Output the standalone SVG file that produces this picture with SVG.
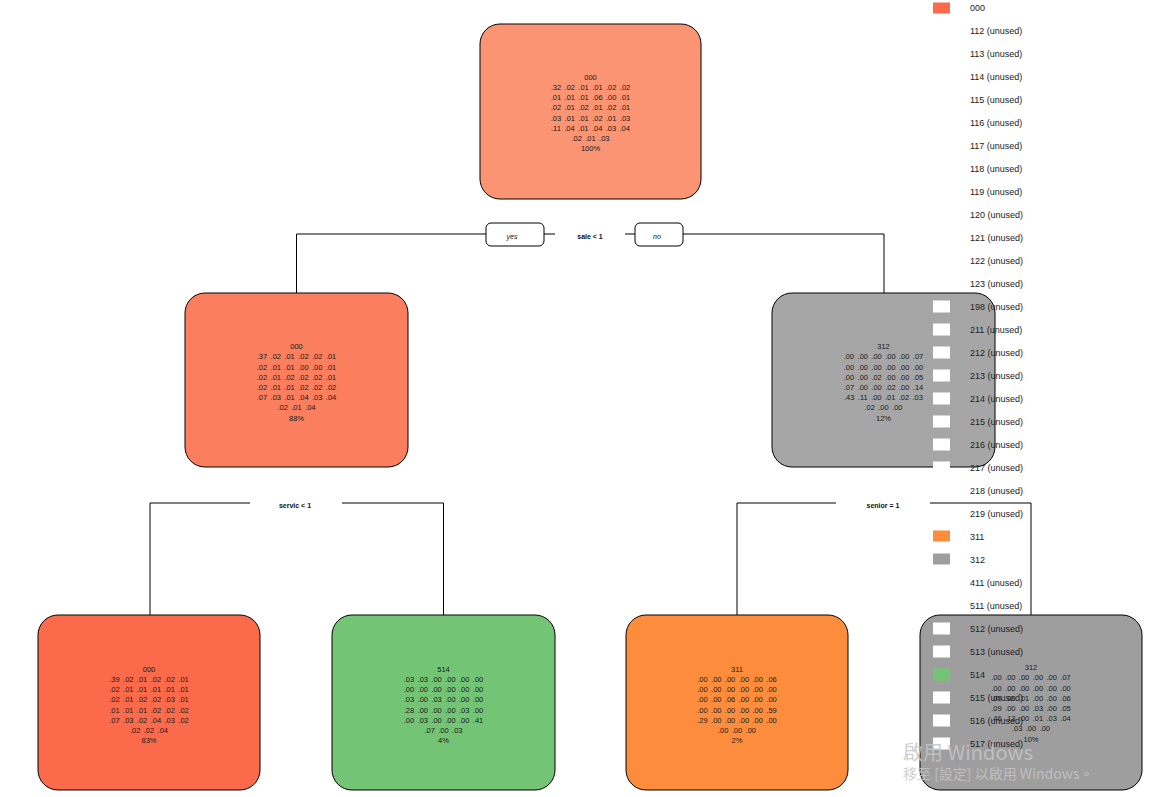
<svg xmlns="http://www.w3.org/2000/svg" width="1164" height="797" viewBox="0 0 1164 797">
<style>
.box{stroke:#000;stroke-width:1}
.nt{font-family:"Liberation Sans",Arial,sans-serif;font-size:7.5px;fill:#1a1a1a;text-anchor:middle;word-spacing:1.3px}
.lbl{font-family:"Liberation Sans",Arial,sans-serif;font-size:7px;font-weight:bold;fill:#111;text-anchor:middle}
.yn{font-family:"Liberation Sans",Arial,sans-serif;font-size:7px;font-style:italic;fill:#111;text-anchor:middle}
.ynb{fill:#fff;stroke:#000;stroke-width:1}
.ln{fill:none;stroke:#000;stroke-width:1}
.lg{font-family:"Liberation Sans",Arial,sans-serif;font-size:9px;fill:#222}
.wm{font-family:"Noto Sans CJK TC","Liberation Sans",sans-serif;fill:#c6c6c6;fill-opacity:0.85}
</style>
<rect width="1164" height="797" fill="#fff"/>
<g id="connectors">
<path class="ln" d="M296.5,293 V234 H486"/>
<path class="ln" d="M544,234 H555"/>
<path class="ln" d="M625,234 H635"/>
<path class="ln" d="M683,234 H884 V293"/>
<rect class="ynb" x="486" y="223" width="58" height="23" rx="5"/>
<text class="yn" x="512" y="239">yes</text>
<rect class="ynb" x="635" y="223" width="48" height="23" rx="5"/>
<text class="yn" x="657" y="239">no</text>
<text class="lbl" x="590" y="238.5">sale &lt; 1</text>
<path class="ln" d="M150,615 V503 H250"/>
<path class="ln" d="M342,503 H443.5 V615"/>
<text class="lbl" x="295" y="507.5">servic &lt; 1</text>
<path class="ln" d="M737,615 V503 H836"/>
<path class="ln" d="M930,503 H1031 V615"/>
<text class="lbl" x="883" y="507.5">senior = 1</text>
</g>
<g id="node1">
<rect class="box" x="480" y="24" width="221" height="175" rx="20" fill="#FB9472"/>
<text class="nt" y="79.7"><tspan x="590.5">000</tspan><tspan x="590.5" dy="10.2">.32 .02 .01 .01 .02 .02</tspan><tspan x="590.5" dy="10.2">.01 .01 .01 .06 .00 .01</tspan><tspan x="590.5" dy="10.2">.02 .01 .02 .01 .02 .01</tspan><tspan x="590.5" dy="10.2">.03 .01 .01 .02 .01 .03</tspan><tspan x="590.5" dy="10.2">.11 .04 .01 .04 .03 .04</tspan><tspan x="590.5" dy="10.2">.02 .01 .03</tspan><tspan x="590.5" dy="10.2">100%</tspan></text>
</g>
<g id="node2">
<rect class="box" x="185" y="293" width="223" height="174" rx="20" fill="#FB7F5E"/>
<text class="nt" y="349.2"><tspan x="296.5">000</tspan><tspan x="296.5" dy="10.2">.37 .02 .01 .02 .02 .01</tspan><tspan x="296.5" dy="10.2">.02 .01 .01 .00 .00 .01</tspan><tspan x="296.5" dy="10.2">.02 .01 .02 .02 .02 .01</tspan><tspan x="296.5" dy="10.2">.02 .01 .01 .02 .02 .02</tspan><tspan x="296.5" dy="10.2">.07 .03 .01 .04 .03 .04</tspan><tspan x="296.5" dy="10.2">.02 .01 .04</tspan><tspan x="296.5" dy="10.2">88%</tspan></text>
</g>
<g id="node3">
<rect class="box" x="772" y="293" width="223" height="174" rx="20" fill="#A6A6A6"/>
<text class="nt" y="349.2"><tspan x="883.5">312</tspan><tspan x="883.5" dy="10.2">.00 .00 .00 .00 .00 .07</tspan><tspan x="883.5" dy="10.2">.00 .00 .00 .00 .00 .00</tspan><tspan x="883.5" dy="10.2">.00 .00 .02 .00 .00 .05</tspan><tspan x="883.5" dy="10.2">.07 .00 .00 .02 .00 .14</tspan><tspan x="883.5" dy="10.2">.43 .11 .00 .01 .02 .03</tspan><tspan x="883.5" dy="10.2">.02 .00 .00</tspan><tspan x="883.5" dy="10.2">12%</tspan></text>
</g>
<g id="node4">
<rect class="box" x="38" y="615" width="222" height="175" rx="20" fill="#FB6A4A"/>
<text class="nt" y="671.7"><tspan x="149">000</tspan><tspan x="149" dy="10.2">.39 .02 .01 .02 .02 .01</tspan><tspan x="149" dy="10.2">.02 .01 .01 .01 .01 .01</tspan><tspan x="149" dy="10.2">.02 .01 .02 .02 .03 .01</tspan><tspan x="149" dy="10.2">.01 .01 .01 .02 .02 .02</tspan><tspan x="149" dy="10.2">.07 .03 .02 .04 .03 .02</tspan><tspan x="149" dy="10.2">.02 .02 .04</tspan><tspan x="149" dy="10.2">83%</tspan></text>
</g>
<g id="node5">
<rect class="box" x="332" y="615" width="223" height="175" rx="20" fill="#74C476"/>
<text class="nt" y="671.7"><tspan x="443.5">514</tspan><tspan x="443.5" dy="10.2">.03 .03 .00 .00 .00 .00</tspan><tspan x="443.5" dy="10.2">.00 .00 .00 .00 .00 .00</tspan><tspan x="443.5" dy="10.2">.03 .00 .03 .00 .00 .00</tspan><tspan x="443.5" dy="10.2">.28 .00 .00 .00 .03 .00</tspan><tspan x="443.5" dy="10.2">.00 .03 .00 .00 .00 .41</tspan><tspan x="443.5" dy="10.2">.07 .00 .03</tspan><tspan x="443.5" dy="10.2">4%</tspan></text>
</g>
<g id="node6">
<rect class="box" x="626" y="615" width="222" height="175" rx="20" fill="#FD8D3C"/>
<text class="nt" y="671.7"><tspan x="737">311</tspan><tspan x="737" dy="10.2">.00 .00 .00 .00 .00 .06</tspan><tspan x="737" dy="10.2">.00 .00 .00 .00 .00 .00</tspan><tspan x="737" dy="10.2">.00 .00 .06 .00 .00 .00</tspan><tspan x="737" dy="10.2">.00 .00 .00 .00 .00 .59</tspan><tspan x="737" dy="10.2">.29 .00 .00 .00 .00 .00</tspan><tspan x="737" dy="10.2">.00 .00 .00</tspan><tspan x="737" dy="10.2">2%</tspan></text>
</g>
<g id="node7">
<rect class="box" x="920" y="615" width="222" height="175" rx="20" fill="#9E9E9E"/>
<text class="nt" y="670.2"><tspan x="1031">312</tspan><tspan x="1031" dy="10.2">.00 .00 .00 .00 .00 .07</tspan><tspan x="1031" dy="10.2">.00 .00 .00 .00 .00 .00</tspan><tspan x="1031" dy="10.2">.00 .00 .01 .00 .00 .06</tspan><tspan x="1031" dy="10.2">.09 .00 .00 .03 .00 .05</tspan><tspan x="1031" dy="10.2">.46 .13 .00 .01 .03 .04</tspan><tspan x="1031" dy="10.2">.03 .00 .00</tspan><tspan x="1031" dy="10.2">10%</tspan></text>
</g>
<g id="legend">
<rect x="933" y="2.5" width="17" height="11" fill="#FB6A4A"/><text class="lg" x="970" y="11">000</text>
<rect x="933" y="25.5" width="17" height="11" fill="#fff"/><text class="lg" x="970" y="34">112 (unused)</text>
<rect x="933" y="48.5" width="17" height="11" fill="#fff"/><text class="lg" x="970" y="57">113 (unused)</text>
<rect x="933" y="71.5" width="17" height="11" fill="#fff"/><text class="lg" x="970" y="80">114 (unused)</text>
<rect x="933" y="94.5" width="17" height="11" fill="#fff"/><text class="lg" x="970" y="103">115 (unused)</text>
<rect x="933" y="117.5" width="17" height="11" fill="#fff"/><text class="lg" x="970" y="126">116 (unused)</text>
<rect x="933" y="140.5" width="17" height="11" fill="#fff"/><text class="lg" x="970" y="149">117 (unused)</text>
<rect x="933" y="163.5" width="17" height="11" fill="#fff"/><text class="lg" x="970" y="172">118 (unused)</text>
<rect x="933" y="186.5" width="17" height="11" fill="#fff"/><text class="lg" x="970" y="195">119 (unused)</text>
<rect x="933" y="209.5" width="17" height="11" fill="#fff"/><text class="lg" x="970" y="218">120 (unused)</text>
<rect x="933" y="232.5" width="17" height="11" fill="#fff"/><text class="lg" x="970" y="241">121 (unused)</text>
<rect x="933" y="255.5" width="17" height="11" fill="#fff"/><text class="lg" x="970" y="264">122 (unused)</text>
<rect x="933" y="278.5" width="17" height="11" fill="#fff"/><text class="lg" x="970" y="287">123 (unused)</text>
<rect x="933" y="300.5" width="17" height="12" fill="#fff"/><text class="lg" x="970" y="310">198 (unused)</text>
<rect x="933" y="323.5" width="17" height="12" fill="#fff"/><text class="lg" x="970" y="333">211 (unused)</text>
<rect x="933" y="346.5" width="17" height="12" fill="#fff"/><text class="lg" x="970" y="356">212 (unused)</text>
<rect x="933" y="369.5" width="17" height="12" fill="#fff"/><text class="lg" x="970" y="379">213 (unused)</text>
<rect x="933" y="392.5" width="17" height="12" fill="#fff"/><text class="lg" x="970" y="402">214 (unused)</text>
<rect x="933" y="415.5" width="17" height="12" fill="#fff"/><text class="lg" x="970" y="425">215 (unused)</text>
<rect x="933" y="438.5" width="17" height="12" fill="#fff"/><text class="lg" x="970" y="448">216 (unused)</text>
<rect x="933" y="461.5" width="17" height="12" fill="#fff"/><text class="lg" x="970" y="471">217 (unused)</text>
<rect x="933" y="484.5" width="17" height="11" fill="#fff"/><text class="lg" x="970" y="494">218 (unused)</text>
<rect x="933" y="507.5" width="17" height="11" fill="#fff"/><text class="lg" x="970" y="517">219 (unused)</text>
<rect x="933" y="530.5" width="17" height="11" fill="#FD8D3C"/><text class="lg" x="970" y="540">311</text>
<rect x="933" y="553.5" width="17" height="11" fill="#9E9E9E"/><text class="lg" x="970" y="563">312</text>
<rect x="933" y="576.5" width="17" height="11" fill="#fff"/><text class="lg" x="970" y="586">411 (unused)</text>
<rect x="933" y="599.5" width="17" height="11" fill="#fff"/><text class="lg" x="970" y="609">511 (unused)</text>
<rect x="933" y="622.5" width="17" height="12" fill="#fff"/><text class="lg" x="970" y="632">512 (unused)</text>
<rect x="933" y="645.5" width="17" height="12" fill="#fff"/><text class="lg" x="970" y="655">513 (unused)</text>
<rect x="933" y="668.5" width="17" height="12" fill="#74C476"/><text class="lg" x="970" y="678">514</text>
<rect x="933" y="691.5" width="17" height="12" fill="#fff"/><text class="lg" x="970" y="701">515 (unused)</text>
<rect x="933" y="714.5" width="17" height="12" fill="#fff"/><text class="lg" x="970" y="724">516 (unused)</text>
<rect x="933" y="737.5" width="17" height="12" fill="#fff"/><text class="lg" x="970" y="747">517 (unused)</text>
</g>
<g id="watermark">
<text class="wm" x="903" y="760" font-size="20" textLength="130" lengthAdjust="spacing">啟用 Windows</text>
<text class="wm" x="903" y="779" font-size="14">移至 [設定] 以啟用 Windows。</text>
</g>
</svg>
